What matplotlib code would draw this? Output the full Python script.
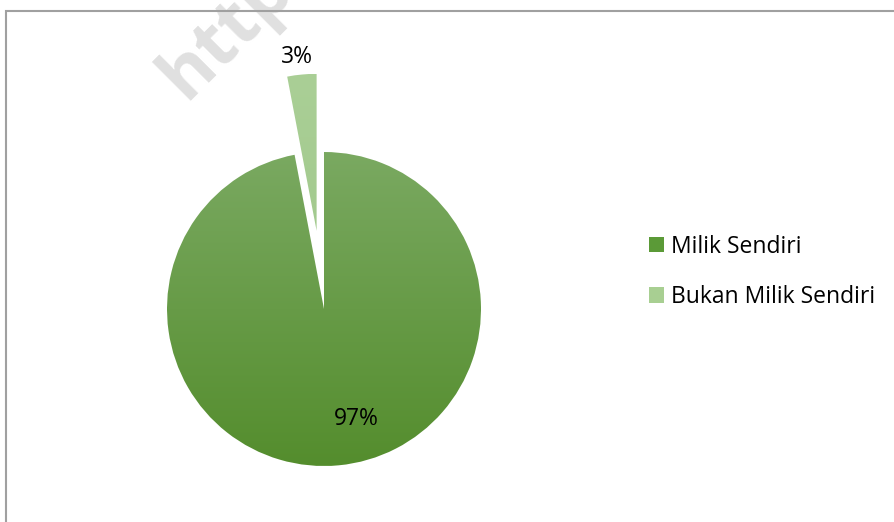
import numpy as np
import matplotlib
matplotlib.use("Agg")
import matplotlib.pyplot as plt
from matplotlib.colors import LinearSegmentedColormap
from matplotlib.patches import Patch, Rectangle

# data
labels = ["Milik Sendiri", "Bukan Milik Sendiri"]
values = [97, 3]
pct_labels = ["97%", "3%"]

# style
legend_colors = ["#5b9a37", "#a8cf92"]
grad_top = ["#7aa961", "#aacf96"]
grad_bot = ["#548d2d", "#9cc587"]
explode_frac = [0, 0.5]

plt.rcParams["font.family"] = ["Open Sans", "DejaVu Sans"]

W, H = 895, 522
fig = plt.figure(figsize=(W / 100, H / 100), dpi=100)
ax = fig.add_axes([0, 0, 1, 1])

cx, cy, r = 324, 213, 157
wedges, _ = ax.pie(values, startangle=90, counterclock=False,
                   explode=[e * r for e in explode_frac],
                   center=(cx, cy), radius=r, frame=True,
                   wedgeprops=dict(linewidth=0))

# vertical gradient fill clipped to each wedge
grad = np.linspace(0, 1, 256).reshape(-1, 1)
for w, ct, cb in zip(wedges, grad_top, grad_bot):
    w.set_facecolor("none")
    cmap = LinearSegmentedColormap.from_list("g", [cb, ct])
    x0, y0 = w.center
    im = ax.imshow(grad, cmap=cmap, extent=(x0 - r, x0 + r, y0 - r, y0 + r),
                   origin="lower", aspect="auto", zorder=1)
    im.set_clip_path(w)

ax.set_xlim(0, W)
ax.set_ylim(0, H)
ax.set_aspect("equal")
ax.axis("off")

# percentage labels
ax.text(356, H - 419, pct_labels[0], ha="center", va="center", fontsize=16.5, color="black")
ax.text(297, H - 57, pct_labels[1], ha="center", va="center", fontsize=16.5, color="black")

# watermark
ax.text(146, H - 96, "https://", rotation=45, fontsize=52, fontweight="bold",
        color="#e0e0e0", ha="left", va="baseline", zorder=0.5)

# chart border
ax.add_patch(Rectangle((6, -5), W + 10, H - 11 + 5, fill=False,
                       edgecolor="#a0a0a0", linewidth=1.5, zorder=5, clip_on=False))

handles = [Patch(facecolor=c, edgecolor="none") for c in legend_colors]
ax.legend(handles, labels, loc="center left", bbox_to_anchor=(640 / W, 1 - 272 / H),
          frameon=False, fontsize=16.5, handlelength=0.65, handleheight=0.65,
          handletextpad=0.3, labelspacing=1.15, borderaxespad=0)

fig.savefig("out.png", dpi=100)
